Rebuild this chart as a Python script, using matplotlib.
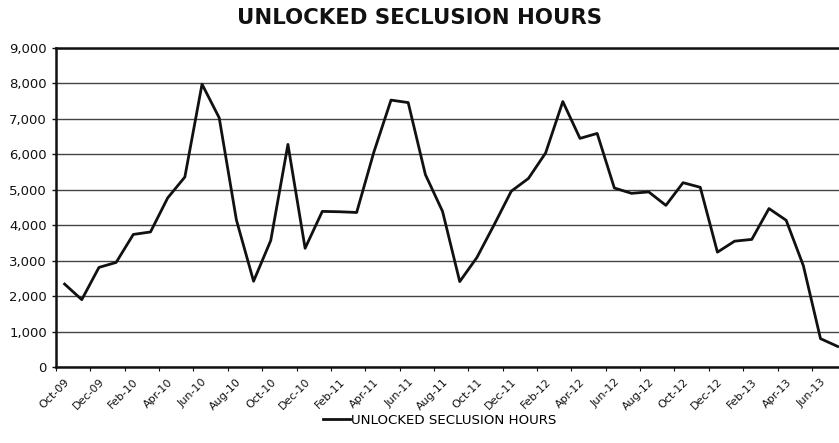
import matplotlib
matplotlib.use("Agg")
import matplotlib.pyplot as plt
from matplotlib.ticker import FuncFormatter

# monthly data, Oct-09 .. Jul-13
months = [
    "Oct-09", "Nov-09", "Dec-09", "Jan-10", "Feb-10", "Mar-10", "Apr-10", "May-10",
    "Jun-10", "Jul-10", "Aug-10", "Sep-10", "Oct-10", "Nov-10", "Dec-10", "Jan-11",
    "Feb-11", "Mar-11", "Apr-11", "May-11", "Jun-11", "Jul-11", "Aug-11", "Sep-11",
    "Oct-11", "Nov-11", "Dec-11", "Jan-12", "Feb-12", "Mar-12", "Apr-12", "May-12",
    "Jun-12", "Jul-12", "Aug-12", "Sep-12", "Oct-12", "Nov-12", "Dec-12", "Jan-13",
    "Feb-13", "Mar-13", "Apr-13", "May-13", "Jun-13", "Jul-13",
]
hours = [
    2340, 1900, 2810, 2950, 3740, 3810, 4770, 5360,
    7980, 7030, 4150, 2420, 3570, 6280, 3350, 4390,
    4380, 4360, 6060, 7530, 7460, 5430, 4390, 2410,
    3090, 4010, 4960, 5320, 6040, 7490, 6450, 6590,
    5050, 4900, 4940, 4560, 5200, 5070, 3240, 3550,
    3600, 4470, 4140, 2860, 800, 580,
]
series_name = "UNLOCKED SECLUSION HOURS"
y_ticks = list(range(0, 10000, 1000))

plt.rcParams["font.family"] = ["DejaVu Sans"]

W, H = 839, 443
fig = plt.figure(figsize=(W / 100, H / 100), dpi=100)
# plot area: x 56 -> 846 px (runs past the right edge), y 48 -> 367 px
n = len(months)
ax = fig.add_axes([56 / W, (H - 367) / H, (17.18 * n) / W, 319 / H])

x = list(range(n))
ax.plot(x, hours, color="#111111", lw=2.0, zorder=3)

ax.set_xlim(-0.5, n - 0.5)
ax.set_ylim(0, 9000)
ax.set_yticks(y_ticks)
ax.yaxis.set_major_formatter(FuncFormatter(lambda v, _: f"{int(v):,}"))
ax.tick_params(axis="y", labelsize=9.5, length=3, width=1, colors="#111111")

# labels on every other month, tick marks on the category boundaries
ax.set_xticks(x[::2])
ax.set_xticklabels(months[::2], rotation=45, ha="right", rotation_mode="anchor",
                   fontsize=8, color="#111111")
ax.tick_params(axis="x", which="major", length=0, pad=7)
ax.set_xticks([i - 0.5 for i in x[::2]], minor=True)
ax.tick_params(axis="x", which="minor", length=3, width=0.8, color="#111111")

ax.grid(axis="y", color="#444444", lw=1.0, zorder=0)
ax.set_axisbelow(True)
for s in ("left", "bottom", "top"):
    ax.spines[s].set_linewidth(1.8)
    ax.spines[s].set_color("#111111")
ax.spines["right"].set_visible(False)

fig.text(0.5, 1 - 18 / H, series_name, ha="center", va="center",
         fontsize=15.3, fontweight="bold", color="#111111")

fig.legend([ax.lines[0]], [series_name], loc="center",
           bbox_to_anchor=(440 / W, 1 - 420 / H), frameon=False,
           fontsize=9.6, handlelength=2.0, handletextpad=0.1)

fig.savefig("out.png", dpi=100)
